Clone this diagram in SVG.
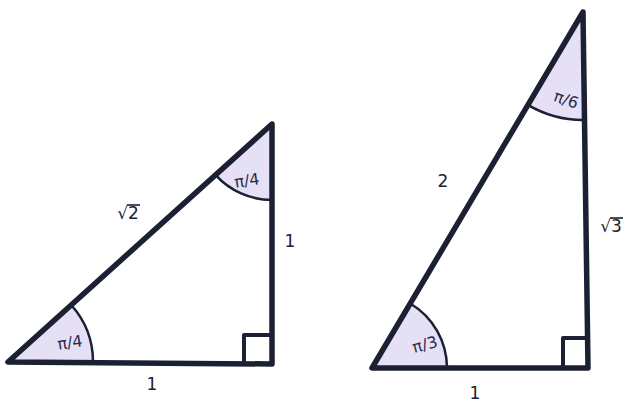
<svg xmlns="http://www.w3.org/2000/svg" width="643" height="406" viewBox="0 0 643 406">
<style>
.wedge{fill:#e6e0f6;stroke:none}
.arc{fill:none;stroke:#1c2033;stroke-width:2.5;stroke-linecap:round}
.edge{fill:none;stroke:#1c2033;stroke-width:5.5;stroke-linecap:round;stroke-linejoin:round}
.sq{fill:none;stroke:#1c2033;stroke-width:4;stroke-linejoin:round}
.bar{stroke:#1c2033;stroke-width:1.6}
.lbl{font-family:"DejaVu Sans",sans-serif;font-size:17px;fill:#1c2033;text-anchor:middle}
.ang{font-family:"DejaVu Sans",sans-serif;font-size:16px;fill:#2a2b4a;text-anchor:middle}
</style>
<rect width="643" height="406" fill="#ffffff"/>
<g id="left-triangle">
<path class="wedge" d="M8,362 L93,362 A85,85 0 0 0 71.2,305 Z"/>
<path class="arc" d="M93,362 A85,85 0 0 0 71.2,305"/>
<path class="wedge" d="M272,124 L215.5,174.9 A76,76 0 0 0 272,200 Z"/>
<path class="arc" d="M215.5,174.9 A76,76 0 0 0 272,200"/>
<path class="edge" d="M8,362 L272,364 L272,124 Z"/>
<path class="sq" d="M244,363 L244,335 L271,335"/>
<text class="ang" x="70" y="348" transform="rotate(-8 70 343)">π/4</text>
<text class="ang" x="247" y="186" transform="rotate(-8 247 181)">π/4</text>
<text class="lbl" x="128" y="219">√2</text>
<line class="bar" x1="127" y1="205" x2="140" y2="205"/>
<text class="lbl" x="290" y="247">1</text>
<text class="lbl" x="152" y="390">1</text>
</g>
<g id="right-triangle">
<path class="wedge" d="M372,368 L447,368 A75,75 0 0 0 410.2,303.5 Z"/>
<path class="arc" d="M447,368 A75,75 0 0 0 410.2,303.5"/>
<path class="wedge" d="M583,12 L527.9,104.9 A108,108 0 0 0 583,120 Z"/>
<path class="arc" d="M527.9,104.9 A108,108 0 0 0 583,120"/>
<path class="edge" d="M372,368 L588,368 L583,12 Z"/>
<path class="sq" d="M563,367 L563,338 L586,338"/>
<text class="ang" x="425" y="350" transform="rotate(-15 425 345)">π/3</text>
<text class="ang" x="566" y="105" transform="rotate(20 566 100)">π/6</text>
<text class="lbl" x="443" y="187">2</text>
<text class="lbl" x="611" y="232">√3</text>
<line class="bar" x1="610" y1="218" x2="623" y2="218"/>
<text class="lbl" x="475" y="399">1</text>
</g>
</svg>
